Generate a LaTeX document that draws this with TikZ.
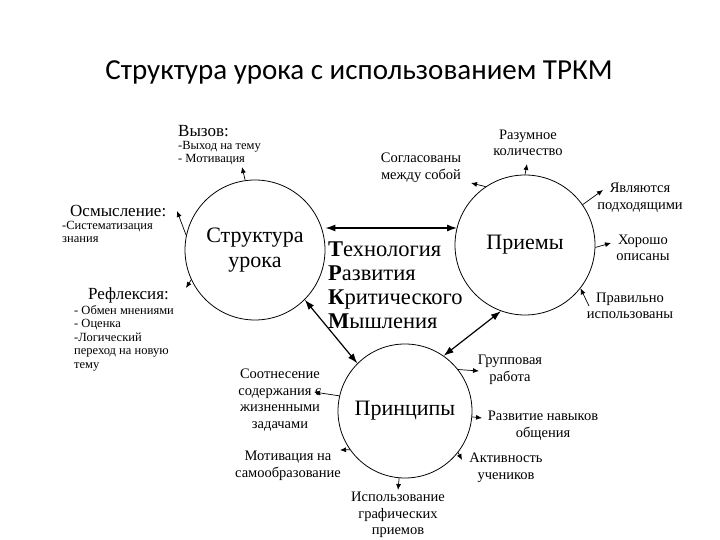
\documentclass[tikz,border=0pt]{standalone}
\usepackage{fontspec}
\setmainfont{Liberation Serif}
\newfontfamily\titlefont{Carlito}
\usetikzlibrary{arrows.meta}
\begin{document}
\begin{tikzpicture}[x=1pt,y=-1pt,
  circ/.style={draw,circle,minimum size=#1,inner sep=0pt,line width=0.8pt},
  lbl/.style={align=center,font=\fontsize{14.5}{16.5}\selectfont,inner sep=0pt},
  llbl/.style={align=left,font=\fontsize{12.5}{13.5}\selectfont,inner sep=0pt,anchor=west},
  head/.style={font=\fontsize{17}{18}\selectfont,inner sep=0pt,anchor=west},
  sm/.style={-{Latex[length=6pt,width=5pt]},line width=0.7pt},
  big/.style={{Latex[length=10pt,width=7pt]}-{Latex[length=10pt,width=7pt]},line width=1.2pt}]
\useasboundingbox (0,0) rectangle (720,540);
\node[font=\titlefont\fontsize{29}{32}\selectfont] (title) at (359,72) {Структура урока с использованием ТРКМ};
\node[circ=140pt,align=center,font=\fontsize{22}{25}\selectfont] (L) at (255,250) {Структура\\урока};
\node[circ=140pt,font=\fontsize{22}{25}\selectfont] (R) at (525,245) {Приемы};
\node[circ=134pt,font=\fontsize{22}{25}\selectfont] (B) at (405,411) {Принципы};
\node[align=left,anchor=north west,inner sep=0pt,font=\fontsize{22.5}{24}\selectfont] (T) at (328,242) {\textbf{Т}ехнология\\\textbf{Р}азвития\\\textbf{К}ритического\\\textbf{М}ышления};
\draw[big] (L.east |- 0,228) coordinate (a1) -- (457,228) coordinate (a2);
\draw[big] (L.-45) -- (B.135);
\draw[big] (R.-110) -- (B.55);
% left
\node[head] (vyz) at (178,131) {Вызов:};
\node[llbl,anchor=north west] (vyz2) at (178,141) {-Выход на тему\\- Мотивация};
\draw[sm] (L.98) -- (242,167);
\node[head] (osm) at (70,211) {Осмысление:};
\node[llbl,anchor=north west] (osm2) at (62,221) {-Систематизация\\знания};
\draw[sm] (L.168) -- (177,211);
\node[head] (ref) at (88,295) {Рефлексия:};
\node[llbl,anchor=north west] (ref2) at (74,305) {- Обмен мнениями\\- Оценка\\-Логический\\переход на новую\\тему};
\draw[sm] (L.205) -- (186,288);
% right
\node[lbl] (r1) at (528,143) {Разумное\\количество};
\draw[sm] (R.90) -- (527,164);
\node[lbl] (r2) at (421,168) {Согласованы\\между собой};
\draw[sm] (R.124) -- (471,183);
\node[lbl] (r3) at (640,198) {Являются\\подходящими};
\draw[sm] (R.35) -- (603,190);
\node[lbl] (r4) at (643,248) {Хорошо\\описаны};
\draw[sm] (R.-2) -- (611,243);
\node[lbl] (r5) at (630,306) {Правильно\\использованы};
\draw[sm] (589,306) -- (R.-38);
% bottom
\node[lbl] (b1) at (510,370) {Групповая\\работа};
\draw[sm] (B.38) -- (479,371);
\node[lbl] (b2) at (543,426) {Развитие навыков\\общения};
\draw[sm] (B.-5) -- (482,418);
\node[lbl] (b3) at (506,468) {Активность\\учеников};
\draw[sm] (B.-38) -- (462,460);
\node[lbl] (b4) at (398,515) {Использование\\графических\\приемов};
\draw[sm] (B.-95) -- (398,490);
\node[lbl] (b5) at (288,466) {Мотивация на\\самообразование};
\draw[sm] (B.-145) -- (340,450);
\node[lbl] (b6) at (280,400) {Соотнесение\\содержания с\\жизненными\\задачами};
\draw[sm] (B.167) -- (314,392);
\end{tikzpicture}
\end{document}
